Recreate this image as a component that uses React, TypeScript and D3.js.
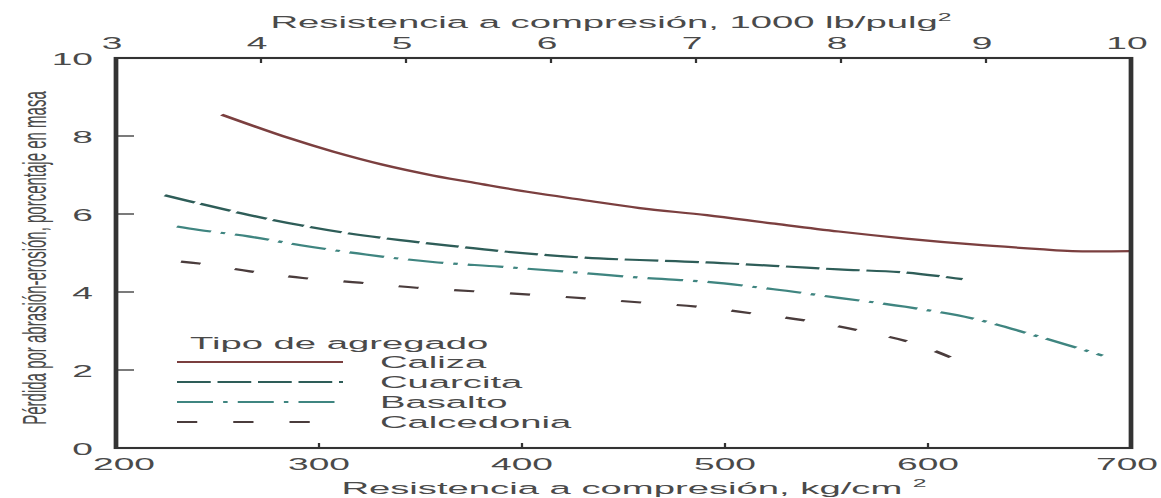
import * as d3 from "d3";
import React from "react";

// values (kg/cm², % loss)
const kgTicks = [200, 300, 400, 500, 600, 700];
const psiTicks = [3, 4, 5, 6, 7, 8, 9, 10];
const lossTicks = [0, 2, 4, 6, 8, 10];

const caliza: [number, number][] = [
  [252, 8.55], [285, 7.95], [307, 7.6], [331, 7.27], [356, 6.99], [381, 6.76],
  [405, 6.55], [430, 6.36], [458, 6.15], [491, 5.97], [523, 5.76], [556, 5.55],
  [589, 5.37], [622, 5.22], [655, 5.1], [671, 5.05], [700, 5.05],
];
const cuarcita: [number, number][] = [
  [224, 6.48], [241, 6.27], [266, 5.97], [291, 5.71], [315, 5.5], [340, 5.33],
  [364, 5.19], [389, 5.05], [414, 4.94], [438, 4.86], [458, 4.82], [491, 4.76],
  [524, 4.67], [556, 4.58], [589, 4.5], [617, 4.33],
];
const basalto: [number, number][] = [
  [230, 5.68], [241, 5.59], [266, 5.42], [291, 5.2], [323, 4.96], [356, 4.77],
  [389, 4.65], [422, 4.52], [458, 4.37], [491, 4.26], [524, 4.07], [556, 3.85],
  [589, 3.62], [622, 3.32], [655, 2.85], [686, 2.37],
];
const calcedonia: [number, number][] = [
  [232, 4.78], [241, 4.73], [266, 4.53], [292, 4.36], [320, 4.24], [348, 4.11],
  [376, 4.02], [405, 3.93], [433, 3.83], [459, 3.73], [487, 3.62], [515, 3.44],
  [542, 3.25], [568, 2.99], [592, 2.7], [615, 2.24],
];

const series = [
  { name: "Caliza", data: caliza, color: "#7b3f3f", dash: "none" },
  { name: "Cuarcita", data: cuarcita, color: "#2e5d58", dash: "15 3" },
  { name: "Basalto", data: basalto, color: "#3f8580", dash: "16 4.5 2 4.5" },
  { name: "Calcedonia", data: calcedonia, color: "#4a3c3c", dash: "9 16" },
];

// the reference is stretched horizontally, so draw in a narrow viewBox and stretch it
const W = 1161, H = 498, K = 2.25;
const VW = W / K;
const font = "'Liberation Sans', Arial, sans-serif";
const txt = "#4a4a4a";

export default function App() {
  const x = d3.scaleLinear().domain([200, 700]).range([116 / K, 1131 / K]);
  const xTop = d3.scaleLinear().domain([3, 10]).range([116 / K, 1131 / K]);
  const y = d3.scaleLinear().domain([0, 10]).range([448, 58]);
  const line = d3.line<[number, number]>().x(d => x(d[0])).y(d => y(d[1])).curve(d3.curveCatmullRom.alpha(0.5));

  return (
    <svg width={W} height={H} viewBox={`0 0 ${VW} ${H}`} preserveAspectRatio="none"
      style={{ position: "absolute", left: 0, top: 0, display: "block", background: "#fff" }}
      fontFamily={font}>
      {/* curves */}
      {series.map(s => (
        <path key={s.name} d={line(s.data)!} fill="none" stroke={s.color} strokeWidth={2.2}
          strokeDasharray={s.dash} />
      ))}

      {/* frame */}
      <rect x={x(200)} y={y(10)} width={x(700) - x(200)} height={y(0) - y(10)} fill="none" stroke="#333" strokeWidth={2.1} />

      {/* y ticks */}
      {lossTicks.map(t => (
        <g key={"y" + t}>
          {t > 0 && t < 10 && <line x1={x(200)} x2={x(200) + 8} y1={y(t)} y2={y(t)} stroke="#333" strokeWidth={1.3} />}
          <text x={93 / K} y={y(t) + 7} textAnchor="end" fontSize={16.5} fill={txt}>{t}</text>
        </g>
      ))}

      {/* bottom ticks */}
      {kgTicks.map((t, i) => (
        <g key={"b" + t}>
          {t > 200 && t < 700 && <line x1={x(t)} x2={x(t)} y1={y(0)} y2={y(0) - 5} stroke="#333" strokeWidth={1} />}
          <text x={x(t) + (i === 0 ? 8 / K : i === kgTicks.length - 1 ? -4 / K : 0)} y={470}
            textAnchor="middle" fontSize={16.5} fill={txt}>{t}</text>
        </g>
      ))}

      {/* top ticks */}
      {psiTicks.map(t => (
        <g key={"t" + t}>
          {t > 3 && t < 10 && <line x1={xTop(t)} x2={xTop(t)} y1={y(10)} y2={y(10) + 5} stroke="#333" strokeWidth={1} />}
          <text x={xTop(t) - 4 / K} y={49} textAnchor="middle" fontSize={16.5} fill={txt}>{t}</text>
        </g>
      ))}

      {/* axis titles */}
      <text x={611 / K} y={28} textAnchor="middle" fontSize={17} fill={txt}>
        Resistencia a compresión, 1000 lb/pulg<tspan fontSize={11} dy={-7}>2</tspan>
      </text>
      <text x={634 / K} y={494} textAnchor="middle" fontSize={17} fill={txt}>
        Resistencia a compresión, kg/cm <tspan fontSize={11} dy={-7}>2</tspan>
      </text>
      <text transform={`translate(${46 / K},${258}) rotate(-90)`} textAnchor="middle" fontSize={15} fill={txt}>
        Pérdida por abrasión-erosión, porcentaje en masa
      </text>

      {/* legend */}
      <text x={190 / K} y={349} fontSize={17} fill={txt}>Tipo de agregado</text>
      {series.map((s, i) => {
        const ly = 362 + i * 20;
        return (
          <g key={"l" + s.name}>
            <line x1={177 / K} x2={343 / K} y1={ly} y2={ly} stroke={s.color} strokeWidth={2.2} strokeDasharray={s.dash} />
            <text x={380 / K} y={ly + 6} fontSize={17} fill={txt}>{s.name}</text>
          </g>
        );
      })}
    </svg>
  );
}
